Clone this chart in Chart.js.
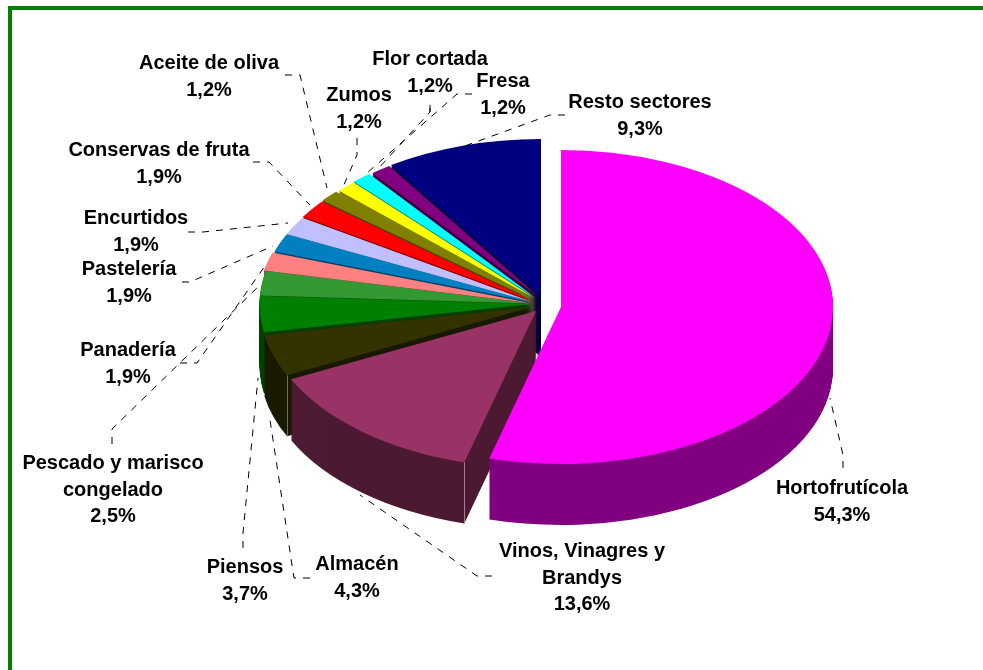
<!DOCTYPE html>
<html>
<head>
<meta charset="utf-8">
<style>html,body{margin:0;padding:0;background:#fff;overflow:hidden}#wrap{position:absolute;left:0;top:0;width:983px;height:670px}</style>
<script src="https://cdn.jsdelivr.net/npm/chart.js@4/dist/chart.umd.min.js"></script>
</head>
<body>
<div id="wrap"><canvas id="c" width="983" height="670"></canvas></div>
<script>
const categories = ['Hortofrutícola','Vinos, Vinagres y\nBrandys','Almacén','Piensos','Pescado y marisco\ncongelado','Panadería','Pastelería','Encurtidos','Conservas de fruta','Aceite de oliva','Zumos','Flor cortada','Fresa','Resto sectores'];
const values = [54.3,13.6,4.3,3.7,2.5,1.9,1.9,1.9,1.9,1.2,1.2,1.2,1.2,9.3];
const topColours = ['#FF00FF','#993366','#333300','#008000','#339933','#FF8080','#0080C0','#C0C0FF','#FF0000','#808000','#FFFF00','#00FFFF','#800080','#000080'];
const sideColours = ['#800080','#4D1A33','#1A1A00','#004000','#1A4D1A','#804040','#004060','#606080','#800000','#404000','#808000','#008080','#400040','#000040'];
// where each exploded slice's apex sits on the page
const sliceCentres = [[561,307],[536,311],[532,307],[531.5,304],[531.7,303.5],[530,303],[532,302],[532,302],[532.5,301],[533,300],[536,299],[536,298],[539,297],[541,296]];
// light vertical corner lines on the walls of these slices
const cornerHighlights = {1:'#A08090',2:'#70705A'};
// label anchor: centre x, first line y
const labelAnchors = [[842,487],[582,550],[357,563],[245,566],[113,462],[128,349],[129,268],[136,217],[159,149],[209,62],[359,94],[430,58],[503,80],[640,101]];
const leaders = [
 [[843,468],[843,455],[830,398]],
 [[492,576],[477,576],[360,495]],
 [[310,578],[294,578],[270,420]],
 [[243,548],[243,533],[258,378]],
 [[112,444],[112,429],[260,285]],
 [[180,363],[197,363],[267,263]],
 [[182,282],[190,282],[273,246]],
 [[188,232],[203,232],[288,223]],
 [[253,162],[269,162],[310,205]],
 [[285,75],[300,75],[327,188]],
 [[357,138],[357,155],[343,187]],
 [[430,112],[430,103],[430,112],[377,170]],
 [[472,94],[457,94],[367,173]],
 [[565,115],[550,115],[462,147]]
];
const pieSquash = 0.577, pieDepth = 61;

const pie3d = {
  id:'pie3d',
  beforeDraw(chart){
    const c = chart.ctx;
    c.save(); c.fillStyle='#fff'; c.fillRect(0,0,983,670);
    c.fillStyle='#008000'; c.fillRect(8,6,975,4); c.fillRect(8,6,4,664); c.restore();
  },
  beforeDatasetsDraw(chart){
    const c = chart.ctx, meta = chart.getDatasetMeta(0);
    for(let i=meta.data.length-1;i>=0;i--){
      const el = meta.data[i], opts = el.options, [cx,cy] = sliceCentres[i];
      const paint = dy => { c.save(); c.translate(cx,cy+dy); c.scale(1,pieSquash); c.translate(-el.x,-el.y); el.draw(c); c.restore(); };
      el.options = Object.assign({},opts,{backgroundColor:sideColours[i],borderWidth:0});
      for(let d=pieDepth;d>0;d--) paint(d);
      el.options = opts;
      paint(0);
      if(cornerHighlights[i]){
        const px = Math.round(cx+Math.cos(el.startAngle)*el.outerRadius)+0.5;
        const py = cy+Math.sin(el.startAngle)*el.outerRadius*pieSquash;
        c.save(); c.strokeStyle=cornerHighlights[i]; c.lineWidth=1;
        c.beginPath(); c.moveTo(px,py); c.lineTo(px,py+pieDepth); c.stroke(); c.restore();
      }
    }
    return false;
  },
  afterDraw(chart){
    const c = chart.ctx;
    c.save();
    c.strokeStyle='#000'; c.lineWidth=1; c.setLineDash([7,7]);
    leaders.forEach(pts=>{ c.beginPath(); pts.forEach((p,j)=> j?c.lineTo(p[0],p[1]):c.moveTo(p[0],p[1])); c.stroke(); });
    c.setLineDash([]);
    c.fillStyle='#000'; c.font='bold 20px "Liberation Sans", Arial, sans-serif'; c.textAlign='center'; c.textBaseline='middle';
    categories.forEach((name,i)=>{
      const lines = name.split('\n').concat([values[i].toFixed(1).replace('.',',')+'%']);
      lines.forEach((t,j)=>{
        c.fillText(t,labelAnchors[i][0],labelAnchors[i][1]+1.5+j*26.7);
      });
    });
    c.restore();
  }
};

new Chart(document.getElementById('c'),{
  type:'pie',
  data:{labels:categories,datasets:[{data:values,backgroundColor:topColours,borderWidth:0}]},
  options:{responsive:false,animation:false,devicePixelRatio:1,
    layout:{padding:{left:260,right:179,top:63,bottom:63}},
    plugins:{legend:{display:false},tooltip:{enabled:false}}},
  plugins:[pie3d]
});
</script>
</body>
</html>
